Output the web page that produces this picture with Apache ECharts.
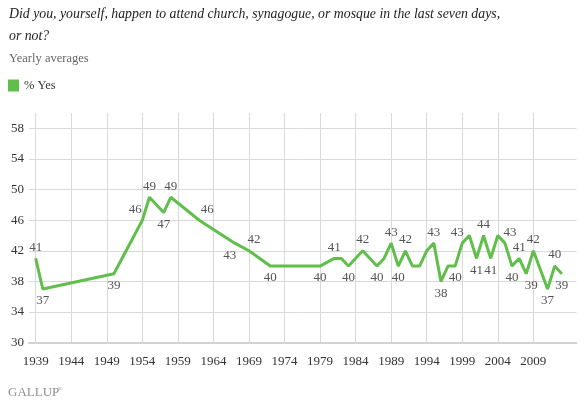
<!DOCTYPE html>
<html>
<head>
<meta charset="utf-8">
<script src="https://cdn.jsdelivr.net/npm/echarts@6/dist/echarts.min.js"></script>
<style>
html,body{margin:0;padding:0;background:#fff;}
#c{width:584px;height:404px;}
</style>
</head>
<body>
<div id="c"></div>
<script>
// ---- data ----
var years  = [1939,1940,1950,1954,1955,1957,1958,1962,1967,1969,1972,1979,1981,1982,1983,1985,1987,1988,1989,1990,1991,1992,1993,1994,1995,1996,1997,1998,1999,2000,2001,2002,2003,2004,2005,2006,2007,2008,2009,2011,2012,2013];
var values = [41,37,39,46,49,47,49,46,43,42,40,40,41,41,40,42,40,41,43,40,42,40,40,42,43,38,40,40,43,44,41,44,41,44,43,40,41,39,42,37,40,39];
var yearTicks = [1939,1944,1949,1954,1959,1964,1969,1974,1979,1984,1989,1994,1999,2004,2009];
var valueTicks = [30,34,38,42,46,50,54,58];
var seriesName = '% Yes';

// label placement (style config): year -> [position, dx]
var labelPlacement = {
  1939:['top',0],1940:['bottom',0],1950:['bottom',0],1954:['top',-7],1955:['top',0],
  1957:['bottom',0],1958:['top',0],1962:['top',8],1967:['bottom',-5],1969:['top',5],
  1972:['bottom',0],1979:['bottom',0],1981:['top',0],1983:['bottom',0],1985:['top',0],
  1987:['bottom',0],1989:['top',0],1990:['bottom',0],1991:['top',0],1995:['top',0],
  1996:['bottom',0],1998:['bottom',0],1999:['top',-5],2001:['bottom',0],2002:['top',0],
  2003:['bottom',0],2005:['top',5],2006:['bottom',0],2007:['top',0],2008:['bottom',5],
  2009:['top',0],2011:['bottom',0],2012:['top',0],2013:['bottom',0]
};

var Y0 = yearTicks[0], V0 = valueTicks[0];
var GREEN = '#60bf4b';
var SERIF = '"Liberation Serif","DejaVu Serif",serif';

var seriesData = years.map(function(y,i){
  var lp = labelPlacement[y];
  var item = {value:[y - Y0, values[i] - V0]};
  if (lp) {
    item.label = {show:true, position:lp[0], offset:[lp[1],0], distance: lp[0]==='top'?4:5};
  } else {
    item.label = {show:false};
  }
  return item;
});

var chart = echarts.init(document.getElementById('c'), null, {renderer:'canvas'});
chart.setOption({
  animation:false,
  backgroundColor:'#fff',
  title:[
    {text:'Did you, yourself, happen to attend church, synagogue, or mosque in the last seven days,\nor not?',
     left:9, top:3, padding:0,
     textStyle:{fontFamily:SERIF, fontStyle:'italic', fontWeight:'normal', fontSize:13.8, color:'#222', lineHeight:22}},
    {text:'Yearly averages', left:9, top:52, padding:0,
     textStyle:{fontFamily:SERIF, fontWeight:'normal', fontSize:12.5, color:'#666'}}
  ],
  legend:{
    left:8, top:79, padding:0, icon:'rect', itemWidth:11, itemHeight:12, itemGap:10,
    textStyle:{fontFamily:SERIF, fontSize:12.5, color:'#333'},
    data:[{name:seriesName, itemStyle:{color:GREEN}}]
  },
  graphic:[{
    type:'text', left:8, top:386,
    style:{text:'GALLUP', font:'13px "Liberation Serif", serif', fill:'#8f8f8f'}
  },{
    type:'text', left:58, top:386,
    style:{text:'\u00AE', font:'6px "Liberation Serif", serif', fill:'#8f8f8f'}
  }],
  grid:[
    {left:29, right:7.5, top:128.5, bottom:61.5, containLabel:false},
    {left:35.7, right:50.7, top:113, bottom:61.5, containLabel:false}
  ],
  xAxis:[
    {gridIndex:0, type:'value', min:-0.94, max:76.07,
     axisLine:{show:true, lineStyle:{color:'#d3d3d3', width:2}},
     axisTick:{show:false}, axisLabel:{show:false}, splitLine:{show:false}},
    {gridIndex:1, type:'value', min:0, max:yearTicks[yearTicks.length-1]-Y0, interval:5,
     axisLine:{show:false}, axisTick:{show:false},
     axisLabel:{show:true, margin:13, color:'#333', fontFamily:SERIF, fontSize:13,
       formatter:function(v){return String(v + Y0);}},
     splitLine:{show:true, lineStyle:{color:'#d9d9d9', width:1}}}
  ],
  yAxis:[
    {gridIndex:0, type:'value', min:0, max:valueTicks[valueTicks.length-1]-V0, interval:4,
     axisLine:{show:false}, axisTick:{show:false},
     axisLabel:{show:true, margin:5, color:'#333', fontFamily:SERIF, fontSize:13,
       formatter:function(v){return String(v + V0);}},
     splitLine:{show:true, lineStyle:{color:'#d9d9d9', width:1}}},
    {gridIndex:1, type:'value', min:0, max:1, show:false, splitLine:{show:false}}
  ],
  series:[{
    name:seriesName, type:'line', xAxisIndex:0, yAxisIndex:0,
    data:seriesData,
    symbol:'circle', symbolSize:1, showSymbol:true,
    itemStyle:{color:GREEN},
    lineStyle:{color:GREEN, width:3},
    label:{fontFamily:SERIF, fontSize:13, color:'#555',
      formatter:function(p){return String(p.value[1] + V0);}},
    z:5
  }]
});
</script>
</body>
</html>
